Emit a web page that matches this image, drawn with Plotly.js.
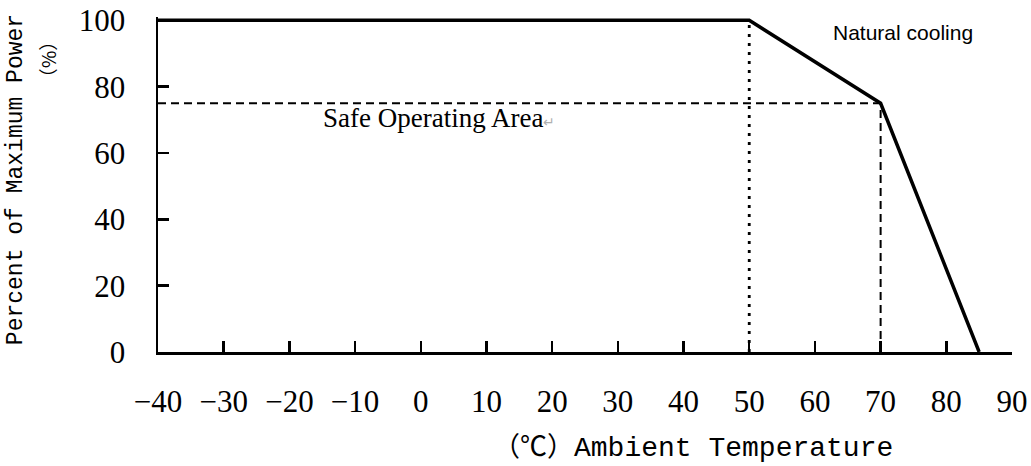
<!DOCTYPE html>
<html>
<head>
<meta charset="utf-8">
<script src="https://cdn.plot.ly/plotly-3.0.1.min.js"></script>
<style>html,body{margin:0;padding:0;background:#fff;}#chart{width:1031px;height:466px;}</style>
</head>
<body>
<div id="chart"></div>
<script>
// Derating curve
const temps = [-40, 50, 70, 85];
const power = [100, 100, 75, 0];
// Guide lines
const guide50X = [50, 50];
const guide50Y = [0, 100];
const guide75X = [-40, 70];
const guide75Y = [75, 75];
const guide70X = [70, 70];
const guide70Y = [0, 75];
// Ticks
const xTicks = [-40, -30, -20, -10, 0, 10, 20, 30, 40, 50, 60, 70, 80, 90];
const yTicks = [0, 20, 40, 60, 80, 100];
// Texts
const xUnit = "（℃）";
const xTitle = "Ambient Temperature";
const yTitle = "Percent of Maximum Power";
const yUnit = "（%）";
const noteCooling = "Natural cooling";
const noteArea = "Safe Operating Area";

const L = 158, R = 1012, T = 16.7, B = 352;
const W = 1031, H = 466;
const px = v => (v - L) / (R - L);
const py = v => (B - v) / (B - T);

const traces = [
  {x: guide75X, y: guide75Y, mode: 'lines', line: {color: '#000', width: 2, dash: '8px,5px'}, hoverinfo: 'skip'},
  {x: guide70X, y: guide70Y, mode: 'lines', line: {color: '#000', width: 2, dash: '8px,5px'}, hoverinfo: 'skip'},
  {x: guide50X, y: guide50Y, mode: 'lines', line: {color: '#000', width: 2.8, dash: '3px,6px'}, hoverinfo: 'skip'},
  {x: temps, y: power, mode: 'lines', line: {color: '#000', width: 3.5}}
];

const cjk = 'Noto Sans CJK SC';
const cjkMono = 'Liberation Mono, Noto Sans CJK SC, monospace';
const tickFont = {family: 'Liberation Serif, Times New Roman, serif', size: 31, color: '#000'};
const monoFont = {family: cjkMono, size: 23, color: '#000'};

const layout = {
  width: W, height: H,
  margin: {l: L, r: W - R, t: T, b: H - B, pad: 0},
  paper_bgcolor: '#fff', plot_bgcolor: '#fff',
  showlegend: false,
  xaxis: {
    range: [-40, 90], tickvals: xTicks, ticktext: xTicks.map(v => v < 0 ? '−' + Math.abs(v) : String(v)),
    showgrid: false, zeroline: false, showline: true, linecolor: '#000', linewidth: 2.5,
    ticks: 'inside', ticklen: 11, tickwidth: 2.5, tickcolor: '#000',
    tickfont: tickFont, ticklabelstandoff: 20
  },
  yaxis: {
    range: [0, 101], tickvals: yTicks,
    showgrid: false, zeroline: false, showline: true, linecolor: '#000', linewidth: 2.5,
    ticks: 'inside', ticklen: 11, tickwidth: 2.5, tickcolor: '#000',
    tickfont: tickFont, ticklabelstandoff: 24
  },
  annotations: [
    {xref: 'paper', yref: 'paper', x: px(895), y: py(445),
     text: '<span style="font-family:' + cjk + ';font-size:27px">' + xUnit + '</span>' + xTitle, showarrow: false,
     xanchor: 'right', yanchor: 'middle', font: {family: cjkMono, size: 28, color: '#000'}},
    {xref: 'paper', yref: 'paper', x: px(16), y: py(180), text: yTitle, showarrow: false, textangle: -90,
     xanchor: 'center', yanchor: 'middle', font: monoFont},
    {xref: 'paper', yref: 'paper', x: px(47), y: py(59),
     text: '<span style="font-family:' + cjk + '">' + yUnit + '</span>', showarrow: false, textangle: -90,
     xanchor: 'center', yanchor: 'middle', font: {family: cjk, size: 19, color: '#000'}},
    {xref: 'x', yref: 'paper', x: 62.4, y: py(32), text: noteCooling, showarrow: false,
     xanchor: 'left', yanchor: 'middle', font: {family: 'Liberation Sans, Arial, sans-serif', size: 21, color: '#000'}},
    {xref: 'x', yref: 'paper', x: -15.2, y: py(118), text: noteArea + '<span style="color:#b0b0b0;font-size:14px">↵</span>', showarrow: false,
     xanchor: 'left', yanchor: 'middle', font: {family: 'Liberation Serif, Times New Roman, serif', size: 27, color: '#000'}}
  ]
};

Plotly.newPlot('chart', traces, layout, {staticPlot: true, displayModeBar: false});
</script>
</body>
</html>
